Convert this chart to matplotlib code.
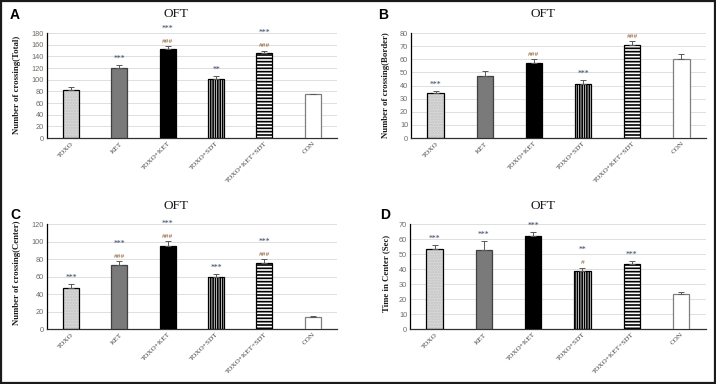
import matplotlib
matplotlib.use("Agg")
import matplotlib.pyplot as plt
from matplotlib.patches import Rectangle

categories = ["TOXO", "KET", "TOXO+KET", "TOXO+SDT", "TOXO+KET+SDT", "CON"]

total_vals = [82, 120, 153, 101, 146, 75]
total_err = [5, 6, 4, 6, 4, 1]
total_star = ["", "***", "***", "**", "***", ""]
total_hash = ["", "", "###", "", "###", ""]

border_vals = [34, 47, 57.5, 41.5, 71, 60]
border_err = [2, 4, 3, 3, 3, 4]
border_star = ["***", "", "", "***", "", ""]
border_hash = ["", "", "###", "", "###", ""]

center_vals = [47, 73.5, 95, 59, 75, 14]
center_err = [5, 4, 6, 4, 5, 1]
center_star = ["***", "***", "***", "***", "***", ""]
center_hash = ["", "###", "###", "", "###", ""]

time_vals = [53.5, 53, 62, 39, 43.5, 23.5]
time_err = [2.5, 6, 3, 2, 2, 1]
time_star = ["***", "***", "***", "**", "***", ""]
time_hash = ["", "", "", "#", "", ""]

panels = [
    dict(letter="A", vals=total_vals, err=total_err, star=total_star, hsh=total_hash,
         ylabel="Number of crossing(Total)", ymax=180, step=20,
         pos=[0.0656, 0.6406, 0.405, 0.2734], lpos=(15, 15), tpos=(176, 14), ylx=17),
    dict(letter="B", vals=border_vals, err=border_err, star=border_star, hsh=border_hash,
         ylabel="Number of crossing(Border)", ymax=80, step=10,
         pos=[0.574, 0.6406, 0.412, 0.2734], lpos=(383, 15), tpos=(543, 14), ylx=386),
    dict(letter="C", vals=center_vals, err=center_err, star=center_star, hsh=center_hash,
         ylabel="Number of crossing(Center)", ymax=120, step=20,
         pos=[0.0656, 0.1432, 0.405, 0.2734], lpos=(15, 215), tpos=(176, 206), ylx=17),
    dict(letter="D", vals=time_vals, err=time_err, star=time_star, hsh=time_hash,
         ylabel="Time in Center (Sec)", ymax=70, step=10,
         pos=[0.5726, 0.1432, 0.413, 0.2734], lpos=(385, 215), tpos=(543, 206), ylx=386),
]

W, H = 716, 384
fig = plt.figure(figsize=(W / 100, H / 100), dpi=100)
serif = ["Liberation Serif", "DejaVu Serif"]
sans = ["Liberation Sans", "DejaVu Sans"]

face = ["#d9d9d9", "#7a7a7a", "#000000", "#ffffff", "#ffffff", "#ffffff"]
hatch = ["......", None, None, "|||||||", "-----", None]
hatchcol = ["#c2c2c2", None, None, "#000000", "#000000", None]
edge = ["#000000", "#404040", "#000000", "#000000", "#000000", "#7f7f7f"]

plt.rcParams["hatch.linewidth"] = 1.2

for p in panels:
    ax = fig.add_axes(p["pos"])
    x = list(range(len(categories)))
    for i in x:
        if hatch[i]:
            ax.bar(i, p["vals"][i], width=0.33, color=face[i], hatch=hatch[i],
                   edgecolor=hatchcol[i], linewidth=0, zorder=2)
    ax.bar(x, p["vals"], width=0.33,
           color=[f if hatch[i] is None else "none" for i, f in enumerate(face)],
           edgecolor=edge, linewidth=0.9, zorder=3)
    ax.errorbar(x, p["vals"], yerr=[[0] * len(x), p["err"]], fmt="none",
                ecolor="#595959", elinewidth=0.7, capsize=2.2, capthick=0.7, zorder=4)
    ymax = p["ymax"]
    for i in x:
        top = p["vals"][i] + p["err"][i]
        off = 1.5
        if p["hsh"][i]:
            ax.annotate(p["hsh"][i], (i, top), xytext=(0, off), textcoords="offset points",
                        ha="center", va="bottom", fontsize=5.4, color="#8a5a2e",
                        family=serif, annotation_clip=False)
            off += 8
        if p["star"][i]:
            ax.annotate(p["star"][i], (i, top), xytext=(0, off), textcoords="offset points",
                        ha="center", va="bottom", fontsize=5.6, color="#2f3f5f",
                        family=serif, annotation_clip=False)
    ax.set_xlim(-0.5, len(categories) - 0.5)
    ax.set_ylim(0, ymax)
    ax.set_yticks(range(0, ymax + 1, p["step"]))
    ax.yaxis.grid(True, color="#d9d9d9", linewidth=0.6, zorder=0)
    ax.set_axisbelow(True)
    for s in ["top", "right"]:
        ax.spines[s].set_visible(False)
    ax.spines["left"].set_color("#000000")
    ax.spines["left"].set_linewidth(0.9)
    ax.spines["bottom"].set_color("#303030")
    ax.spines["bottom"].set_linewidth(0.9)
    ax.tick_params(axis="both", length=0, pad=2)
    ax.set_xticks(x)
    ax.set_xticklabels(categories, rotation=45, ha="right", rotation_mode="anchor",
                       fontsize=5.2, family=serif, color="#404040")
    for lab in ax.get_yticklabels():
        lab.set_fontsize(5.3)
        lab.set_color("#6f6a66")
        lab.set_family(sans)
    fig.text(p["ylx"] / W, 1 - 85 / H if p["letter"] in "AB" else 1 - 273 / H,
             p["ylabel"], rotation=90, ha="center", va="center", fontsize=6.3,
             family=serif, fontweight="bold", color="#1a1a1a")
    fig.text(p["tpos"][0] / W, 1 - p["tpos"][1] / H, "OFT", ha="center", va="center",
             fontsize=9.5, family=serif, color="#1a1a1a")
    fig.text(p["lpos"][0] / W, 1 - p["lpos"][1] / H, p["letter"], ha="center", va="center",
             fontsize=10, family=sans, fontweight="bold")

fig.patches.append(Rectangle((0.0015, 0.003), 0.997, 0.994, transform=fig.transFigure,
                             fill=False, edgecolor="#1a1a1a", linewidth=1.6))

fig.savefig("out.png", dpi=100)
